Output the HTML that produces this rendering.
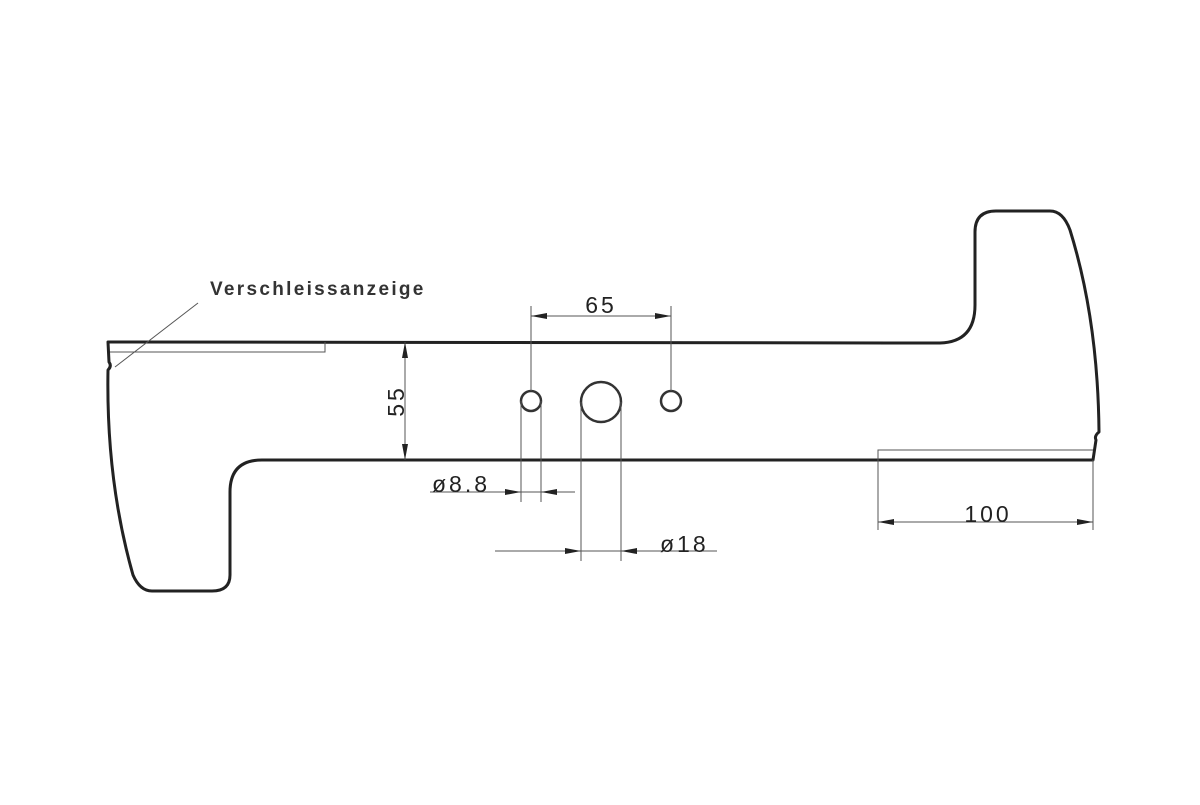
<!DOCTYPE html>
<html><head><style>html,body{margin:0;padding:0;background:#fff}</style></head><body>
<svg width="1200" height="800" viewBox="0 0 1200 800" xmlns="http://www.w3.org/2000/svg" font-family="Liberation Sans, sans-serif">
<rect width="1200" height="800" fill="#fff"/>
<path d="M108,342 L940,343 Q975,342 975,305 L975,232 Q975,211 996,211 L1050,211 Q1063,211 1070,230 Q1098,320 1099,432 Q1094,436 1096,440 L1093,460 L262,460 Q230,460 230,492 L230,575 Q230,591 212,591 L152,591 Q140,591 133,575 Q106,480 108,370 Q112,366 109,362 Z" fill="none" stroke="#222" stroke-width="3" stroke-linejoin="round"/>
<g fill="none" stroke="#333" stroke-width="2.5">
<circle cx="531" cy="401" r="10"/>
<circle cx="601" cy="402" r="20"/>
<circle cx="671" cy="401" r="10"/>
</g>
<g stroke="#555" stroke-width="1" fill="none">
<polyline points="110,352 325,352 325,342"/>
<line x1="115" y1="367" x2="198" y2="303"/>
<polyline points="878,460 878,450 1093,450"/>
<line x1="531" y1="306" x2="531" y2="391"/>
<line x1="671" y1="306" x2="671" y2="391"/>
<line x1="531" y1="316" x2="671" y2="316"/>
<line x1="405" y1="342" x2="405" y2="460"/>
<line x1="521" y1="401" x2="521" y2="502"/>
<line x1="541" y1="401" x2="541" y2="502"/>
<line x1="430" y1="492" x2="575" y2="492"/>
<line x1="581" y1="402" x2="581" y2="561"/>
<line x1="621" y1="402" x2="621" y2="561"/>
<line x1="495" y1="551" x2="717" y2="551"/>
<line x1="878" y1="460" x2="878" y2="530"/>
<line x1="1093" y1="460" x2="1093" y2="530"/>
<line x1="878" y1="522" x2="1093" y2="522"/>
</g>
<g fill="#222">
<polygon points="531,316 547,313 547,319"/>
<polygon points="671,316 655,313 655,319"/>
<polygon points="405,342 402,358 408,358"/>
<polygon points="405,460 402,444 408,444"/>
<polygon points="521,492 505,489 505,495"/>
<polygon points="541,492 557,489 557,495"/>
<polygon points="581,551 565,548 565,554"/>
<polygon points="621,551 637,548 637,554"/>
<polygon points="878,522 894,519 894,525"/>
<polygon points="1093,522 1077,519 1077,525"/>
</g>
<g fill="#222" font-size="23" letter-spacing="3">
<text x="601" y="313" text-anchor="middle">65</text>
<text x="988" y="522" text-anchor="middle">100</text>
<text x="432" y="492">ø8.8</text>
<text x="660" y="552">ø18</text>
<text transform="translate(404,401) rotate(-90)" text-anchor="middle">55</text>
<text x="210" y="295" font-size="19" letter-spacing="2.3" font-weight="bold" fill="#333">Verschleissanzeige</text>
</g>
</svg>
</body></html>
